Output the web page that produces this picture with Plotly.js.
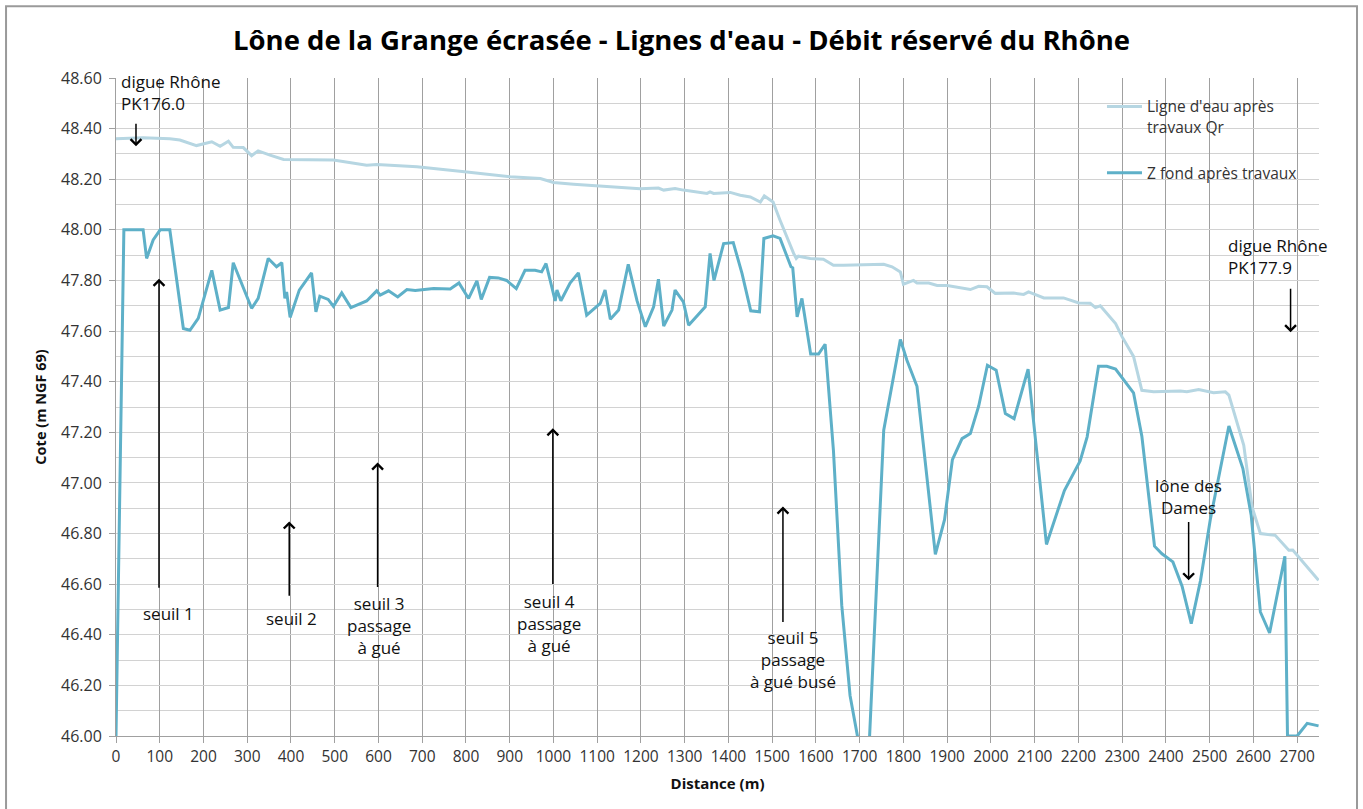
<!DOCTYPE html>
<html>
<head>
<meta charset="utf-8">
<script src="https://cdn.plot.ly/plotly-3.0.1.min.js"></script>
<style>html,body{margin:0;padding:0;background:#fff;}#chart{width:1363px;height:809px;}</style>
</head>
<body>
<div id="chart"></div>
<script>
// ---- Data ----
const seriesNames = ["Ligne d'eau après<br>travaux Qr", "Z fond après travaux"];

const waterDist = [0,62,123,146,184,219,238,257,268,291,310,325,352,383,497,573,596,688,802,901,
  970,1000,1046,1099,1198,1240,1252,1278,1297,1351,1358,1366,1404,1427,1450,1473,1482,1502,1518,1549,
  1555,1560,1587,1617,1640,1663,1755,1774,1793,1800,1823,1831,1858,1877,1900,1953,1972,1991,2010,2052,
  2075,2086,2121,2166,2201,2227,2239,2250,2285,2300,2326,2345,2372,2433,2448,2475,2509,2536,2544,2578,
  2597,2616,2650,2681,2690,2723,2749];
const waterLevel = [48.36,48.364,48.36,48.355,48.333,48.348,48.33,48.35,48.326,48.325,48.293,48.312,48.295,48.278,48.276,48.255,48.258,48.249,48.229,48.21,
  48.203,48.187,48.18,48.173,48.162,48.165,48.157,48.163,48.157,48.144,48.15,48.144,48.148,48.137,48.13,48.11,48.134,48.11,48.038,47.907,
  47.887,47.896,47.887,47.884,47.86,47.86,47.864,47.854,47.834,47.785,47.80,47.79,47.79,47.78,47.78,47.764,47.777,47.775,47.749,47.75,
  47.745,47.755,47.731,47.731,47.711,47.71,47.693,47.70,47.63,47.577,47.50,47.366,47.36,47.363,47.36,47.369,47.356,47.36,47.347,47.149,
  46.905,46.80,46.793,46.734,46.735,46.668,46.615];

const bedDist = [0,18,62,70,85,101,123,154,169,188,219,238,257,268,310,325,348,367,379,386,390,398,419,447,457,466,485,497,516,537,
  573,596,604,623,644,665,684,726,764,784,806,825,835,854,874,893,915,935,958,973,983,1004,1008,1017,1038,1057,1076,1107,1118,1130,
  1149,1171,1191,1210,1229,1240,1252,1271,1278,1297,1309,1347,1358,1367,1389,1411,1431,1451,1471,1481,1502,1518,1543,1547,1557,1568,
  1588,1606,1621,1640,1659,1678,1697,1720,1755,1793,1808,1831,1873,1894,1912,1934,1953,1972,1992,2012,2033,2053,2085,2127,2168,2204,
  2220,2246,2265,2285,2326,2345,2374,2391,2416,2437,2458,2479,2502,2544,2576,2595,2616,2637,2672,2678,2700,2723,2749];
const bedLevel = [46.0,48.0,48.0,47.887,47.96,48.0,48.0,47.61,47.603,47.65,47.84,47.683,47.693,47.87,47.69,47.729,47.887,47.854,47.87,47.729,
  47.755,47.654,47.762,47.83,47.676,47.738,47.725,47.698,47.751,47.693,47.719,47.759,47.742,47.759,47.735,47.764,47.76,47.768,47.766,47.79,
  47.729,47.798,47.725,47.812,47.81,47.80,47.768,47.84,47.84,47.834,47.867,47.719,47.762,47.72,47.79,47.83,47.663,47.709,47.762,47.647,
  47.683,47.864,47.72,47.617,47.696,47.805,47.62,47.683,47.762,47.715,47.623,47.696,47.907,47.80,47.946,47.95,47.828,47.68,47.676,47.966,
  47.976,47.966,47.854,47.85,47.656,47.729,47.509,47.509,47.548,47.129,46.517,46.16,45.98,45.9,47.208,47.567,47.485,47.382,46.718,46.855,
  47.092,47.175,47.195,47.303,47.465,47.445,47.274,47.254,47.45,46.757,46.97,47.087,47.182,47.461,47.461,47.45,47.356,47.185,46.75,46.72,
  46.688,46.592,46.444,46.613,46.86,47.225,47.057,46.872,46.49,46.407,46.71,46.0,46.0,46.05,46.04];

// Text notes on the chart
const noteTexts = ["digue Rhône<br>PK176.0", "seuil 1", "seuil 2", "seuil 3<br>passage<br>à gué",
  "seuil 4<br>passage<br>à gué", "seuil 5<br>passage<br>à gué busé", "lône des<br>Dames", "digue Rhône<br>PK177.9"];
const noteX = [7, 121, 402, 601, 990, 1548, 2451, 2538];
const noteY = [48.543, 46.485, 46.465, 46.437, 46.445, 46.303, 46.945, 47.893];
const noteAnchor = ["left","center","center","center","center","center","center","left"];

// Arrows: tip (x,y) and tail (x,y)
const arrowTipX  = [45.7, 98.3, 396, 598, 998.6, 1524.6, 2452, 2685];
const arrowTipY  = [48.33, 47.807, 46.848, 47.081, 47.216, 46.907, 46.615, 47.595];
const arrowTailY = [48.425, 46.58, 46.548, 46.583, 46.595, 46.445, 46.852, 47.773];

const FONT = "Open Sans, Noto Sans, sans-serif";

const traces = [
  {x: waterDist, y: waterLevel, name: seriesNames[0], type: 'scatter', mode: 'lines',
   line: {color: '#b6d6e2', width: 3}, legendgroup: 'a'},
  {x: bedDist, y: bedLevel, name: seriesNames[1], type: 'scatter', mode: 'lines',
   line: {color: '#5eb0c8', width: 3}, legendgroup: 'b'}
];

const annotations = [];
for (let i = 0; i < noteTexts.length; i++) {
  annotations.push({x: noteX[i], y: noteY[i], xref: 'x', yref: 'y', text: noteTexts[i],
    showarrow: false, xanchor: noteAnchor[i], yanchor: 'middle',
    align: noteAnchor[i] === 'left' ? 'left' : 'center',
    font: {family: FONT, size: 17, color: '#111'}});
}
for (let i = 0; i < arrowTipX.length; i++) {
  annotations.push({x: arrowTipX[i], y: arrowTipY[i], xref: 'x', yref: 'y',
    ax: arrowTipX[i], ay: arrowTailY[i], axref: 'x', ayref: 'y', text: '',
    showarrow: true, arrowhead: 4, arrowsize: 1.4, arrowwidth: 1.5, arrowcolor: '#000'});
}

const layout = {
  width: 1363, height: 809,
  margin: {l: 116, r: 44, t: 78, b: 73},
  paper_bgcolor: '#fff', plot_bgcolor: '#fff',
  font: {family: FONT, color: '#333'},
  title: {text: "Lône de la Grange écrasée - Lignes d'eau - Débit réservé du Rhône",
    font: {family: FONT, size: 27.5, color: '#000', weight: 'bold'},
    x: 0.5, xref: 'container', y: 1 - 40/809, yref: 'container', yanchor: 'middle'},
  xaxis: {range: [0, 2750], dtick: 100, tick0: 0, showgrid: true, gridcolor: '#a0a0a0', gridwidth: 1,
    zeroline: false, showline: true, linecolor: '#a0a0a0', ticks: 'outside', ticklen: 6, tickcolor: '#a0a0a0',
    tickfont: {family: FONT, size: 15.5, color: '#333'},
    title: {text: 'Distance (m)', font: {family: FONT, size: 15, color: '#111', weight: 'bold'}, standoff: 12}},
  yaxis: {range: [46, 48.6], dtick: 0.2, tick0: 46, tickformat: '.2f', showgrid: true, gridcolor: '#d2d2d2', gridwidth: 1,
    minor: {dtick: 0.1, showgrid: true, gridcolor: '#d2d2d2', gridwidth: 1},
    zeroline: false, showline: true, linecolor: '#a0a0a0', ticks: 'outside', ticklen: 6, tickcolor: '#a0a0a0',
    ticklabelstandoff: 4,
    tickfont: {family: FONT, size: 16, color: '#333'},
    title: {text: 'Cote (m NGF 69)', font: {family: FONT, size: 14.5, color: '#111', weight: 'bold'}, standoff: 10}},
  legend: {x: 0.8196, y: 0.982, xanchor: 'left', yanchor: 'top', bgcolor: 'rgba(255,255,255,0)',
    font: {family: FONT, size: 15.5, color: '#333'}, traceorder: 'grouped', tracegroupgap: 23,
    valign: 'top', itemwidth: 35},
  annotations: annotations,
  shapes: [{type: 'rect', xref: 'paper', yref: 'paper', x0: -0.0914, x1: 1.0316, y0: -0.15, y1: 1.109,
    line: {color: '#9a9a9a', width: 2}, fillcolor: 'rgba(0,0,0,0)', layer: 'below'}],
  showlegend: true
};

Plotly.newPlot('chart', traces, layout, {displayModeBar: false, staticPlot: true});
</script>
</body>
</html>
